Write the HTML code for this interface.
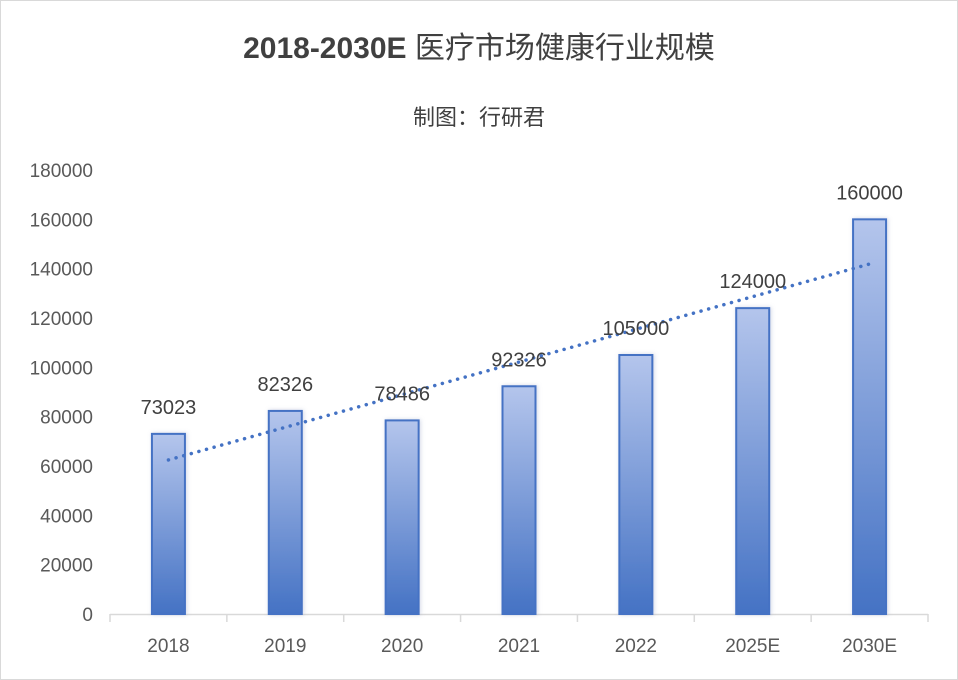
<!DOCTYPE html>
<html><head><meta charset="utf-8">
<style>
html,body{margin:0;padding:0;background:#fff;}
#wrap{width:956px;height:678px;border:1px solid #d9d9d9;position:relative;overflow:hidden;}
svg text{font-family:"Liberation Sans","Noto Sans CJK SC",sans-serif;}
</style></head><body>
<div id="wrap">
<svg id="chart" width="956" height="678">
<defs>
<linearGradient id="barGrad" x1="0" y1="0" x2="0" y2="1">
<stop offset="0" stop-color="#b4c5ec"/><stop offset="1" stop-color="#4472c4"/>
</linearGradient>
<filter id="sh" x="-30%" y="-10%" width="160%" height="120%"><feDropShadow dx="1" dy="0" stdDeviation="2" flood-color="#7f8fb8" flood-opacity="0.35"/></filter>
</defs>
<text x="478" y="57" text-anchor="middle" font-size="30" fill="#404040"><tspan font-weight="bold">2018-2030E</tspan> 医疗市场健康行业规模</text>
<text x="478" y="124" text-anchor="middle" font-size="22" fill="#404040">制图：行研君</text>
<g id="axes"></g><g id="bars"></g><g id="trend"></g><g id="labels"></g>
</svg>
</div>
<script>
const categories=["2018","2019","2020","2021","2022","2025E","2030E"];
const values=[73023,82326,78486,92326,105000,124000,160000];
const valueLabels=["73023","82326","78486","92326","105000","124000","160000"];
const yTicks=[0,20000,40000,60000,80000,100000,120000,140000,160000,180000];
const NS="http://www.w3.org/2000/svg";
const x0=109,x1=927,y0=613,yMax=180000,plotH=444;
const band=(x1-x0)/categories.length;
const xC=i=>x0+band*(i+0.5);
const yS=v=>y0-v/yMax*plotH;
function mk(tag,attrs,parent){const e=document.createElementNS(NS,tag);for(const k in attrs)e.setAttribute(k,attrs[k]);parent.appendChild(e);return e;}
const axes=document.getElementById('axes'),bars=document.getElementById('bars'),trend=document.getElementById('trend'),labels=document.getElementById('labels');
yTicks.forEach(t=>{const tx=mk('text',{x:92,y:yS(t)+7,'text-anchor':'end','font-size':19,fill:'#595959'},axes);tx.textContent=t;

});
const ax=mk('line',{x1:x0,x2:x1,y1:y0+0.5,y2:y0+0.5,stroke:'#d9d9d9','stroke-width':1.5},axes);


for(let i=0;i<=categories.length;i++){const tk=mk('line',{x1:x0+band*i,x2:x0+band*i,y1:y0,y2:y0+8,stroke:'#d9d9d9','stroke-width':1.5},axes);

}
const bw=33;
categories.forEach((c,i)=>{
const r=mk('rect',{x:xC(i)-bw/2,y:yS(values[i]),width:bw,height:y0-yS(values[i]),fill:'url(#barGrad)',stroke:'#4472c4','stroke-width':2,filter:'url(#sh)'},bars);


const xl=mk('text',{x:xC(i),y:651,'text-anchor':'middle','font-size':19,fill:'#595959'},axes);xl.textContent=c;


const vl=mk('text',{x:xC(i),y:yS(values[i])-20,'text-anchor':'middle','font-size':20,fill:'#404040'},labels);vl.textContent=valueLabels[i];


});
// linear trendline (least squares)
const n=values.length;let mx=0,my=0;values.forEach((v,i)=>{mx+=i;my+=v;});mx/=n;my/=n;
let sxy=0,sxx=0;values.forEach((v,i)=>{sxy+=(i-mx)*(v-my);sxx+=(i-mx)*(i-mx);});
const sl=sxy/sxx,ic=my-sl*mx;
const tl=mk('line',{x1:xC(0),y1:yS(ic),x2:xC(n-1),y2:yS(ic+sl*(n-1)),stroke:'#4472c4','stroke-width':3.5,'stroke-dasharray':'0.1 7.8','stroke-linecap':'round'},trend);


</script>
</body></html>
